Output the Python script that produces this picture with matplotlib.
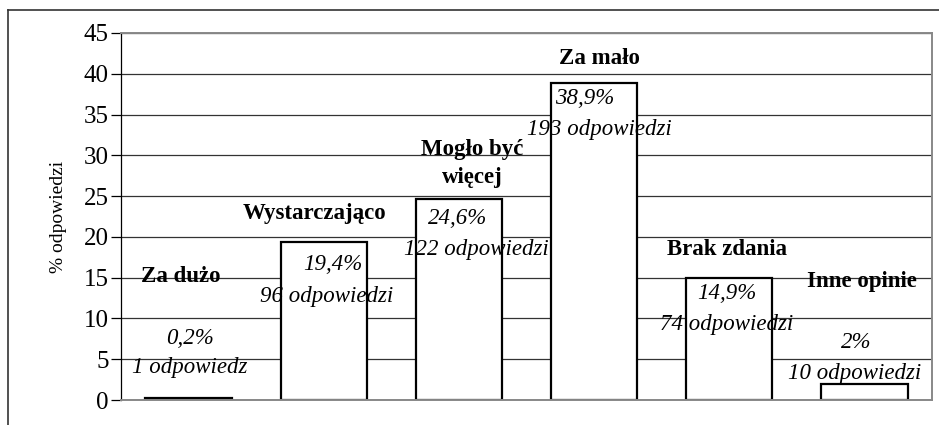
import matplotlib
matplotlib.use("Agg")
import matplotlib.pyplot as plt
from matplotlib.lines import Line2D
import numpy as np

plt.rcParams["font.family"] = ["Liberation Serif", "DejaVu Serif"]

# answer categories and their shares (%)
categories = ["Za dużo", "Wystarczająco", "Mogło być\nwięcej", "Za mało", "Brak zdania", "Inne opinie"]
values = [0.2, 19.4, 24.6, 38.9, 14.9, 2]
pct_labels = ["0,2%", "19,4%", "24,6%", "38,9%", "14,9%", "2%"]
count_labels = ["1 odpowiedz", "96 odpowiedzi", "122 odpowiedzi", "193 odpowiedzi", "74 odpowiedzi", "10 odpowiedzi"]

# label placement (x offset from the bar centre, y in data units)
name_pos = [(-0.06, 15.2), (-0.07, 22.9), (0.10, 29.0), (0.04, 41.9), (-0.02, 18.5), (-0.02, 14.5)]
pct_pos = [(0.01, 7.6), (0.07, 16.6), (-0.01, 22.3), (-0.07, 37.0), (-0.02, 13.1), (-0.06, 7.0)]
cnt_pos = [(0.01, 4.0), (0.02, 12.75), (0.13, 18.5), (0.04, 33.2), (-0.02, 9.2), (-0.07, 3.3)]

fig = plt.figure(figsize=(9.39, 4.25), dpi=100)
ax = fig.add_axes([0.1289, 0.0588, 0.8636, 0.8636])

x = np.arange(len(values))
ax.bar(x, values, width=0.64, color="white", edgecolor="black", linewidth=1.6, zorder=2)

ax.set_xlim(-0.5, len(values) - 0.5)
ax.set_ylim(0, 45)
ax.set_yticks(range(0, 46, 5))
ax.set_xticks([])
ax.yaxis.grid(True, color="#333333", linewidth=0.9, zorder=0)
ax.set_axisbelow(True)
ax.tick_params(axis="y", labelsize=18, length=7, width=0.9, pad=2)
ax.set_ylabel("% odpowiedzi", fontsize=14, labelpad=12)

for side in ["top", "right", "bottom"]:
    ax.spines[side].set_color("#888888")
    ax.spines[side].set_linewidth(1.4)
ax.spines["left"].set_linewidth(0.9)

for i in range(len(values)):
    ax.text(i + name_pos[i][0], name_pos[i][1], categories[i], ha="center", va="center",
            fontsize=16.5, fontweight="bold", linespacing=1.45, zorder=3)
    ax.text(i + pct_pos[i][0], pct_pos[i][1], pct_labels[i], ha="center", va="center",
            fontsize=16.5, style="italic", zorder=3)
    ax.text(i + cnt_pos[i][0], cnt_pos[i][1], count_labels[i], ha="center", va="center",
            fontsize=16.5, style="italic", zorder=3)

# outer frame (cut at the right and bottom)
fig.add_artist(Line2D([8 / 939, 1], [1 - 10 / 425, 1 - 10 / 425], color="#333333", linewidth=1.2))
fig.add_artist(Line2D([8 / 939, 8 / 939], [0, 1 - 10 / 425], color="#333333", linewidth=1.2))

fig.savefig("out.png", dpi=100)
